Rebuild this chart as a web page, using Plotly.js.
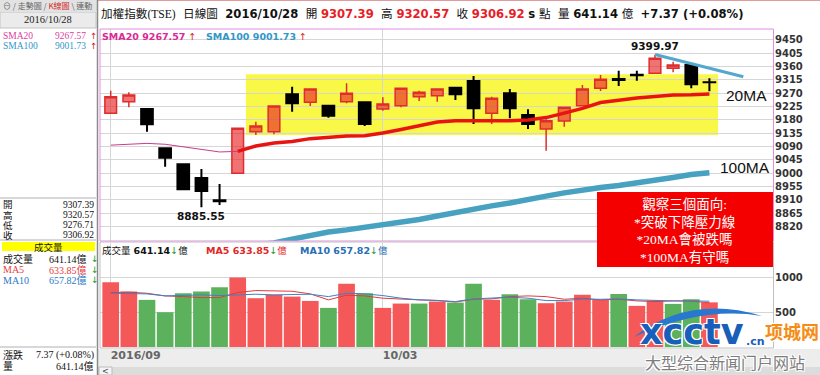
<!DOCTYPE html>
<html><head><meta charset="utf-8">
<script src="https://cdn.plot.ly/plotly-3.0.1.min.js"></script>
<style>html,body{margin:0;padding:0;background:#fff;} #chart{width:820px;height:375px;}</style>
</head><body><div id="chart"></div>
<script>
// ---------- data ----------
const dates = ['2016-09-07','2016-09-08','2016-09-09','2016-09-10','2016-09-12','2016-09-13','2016-09-14','2016-09-19','2016-09-20','2016-09-21','2016-09-22','2016-09-23','2016-09-26','2016-09-29','2016-09-30','2016-10-03','2016-10-04','2016-10-05','2016-10-06','2016-10-07','2016-10-11','2016-10-12','2016-10-13','2016-10-14','2016-10-17','2016-10-18','2016-10-19','2016-10-20','2016-10-21','2016-10-24','2016-10-25','2016-10-26','2016-10-27','2016-10-28'];
const openP  = [9202.5,9241.7,9217.0,9084.4,9030.4,8984.1,8909.0,9000.0,9140.4,9140.4,9266.6,9239.6,9228.2,9241.7,9239.6,9217.0,9228.2,9258.5,9261.9,9288.9,9311.5,9202.5,9270.0,9196.8,9149.5,9176.5,9228.2,9286.9,9318.0,9333.0,9337.5,9354.4,9365.5,9307.39];
const highP  = [9278.8,9273.4,9219.0,9086.0,9032.0,9014.5,8964.2,9152.0,9174.0,9228.0,9292.3,9285.0,9229.0,9303.8,9241.0,9256.5,9288.0,9278.8,9286.0,9292.0,9328.4,9258.5,9284.5,9216.0,9182.2,9224.0,9298.0,9331.8,9346.3,9346.0,9399.97,9376.6,9367.0,9320.57];
const lowP   = [9201.0,9222.8,9140.4,9022.3,8944.0,8885.55,8893.4,8999.0,9129.0,9131.6,9207.9,9227.0,9187.6,9236.0,9159.6,9211.3,9222.8,9244.0,9241.7,9247.4,9166.4,9166.4,9185.6,9149.5,9076.3,9157.3,9227.0,9277.8,9294.6,9312.0,9336.0,9340.9,9286.9,9276.71];
const closeP = [9258.5,9264.3,9165.4,9052.7,8946.0,8940.3,8906.0,9151.9,9159.6,9227.0,9236.2,9284.5,9194.4,9270.0,9166.4,9233.9,9286.9,9273.4,9284.5,9266.6,9219.4,9253.1,9219.4,9166.4,9177.5,9222.8,9284.5,9317.3,9315.0,9331.0,9388.0,9365.5,9300.4,9306.92];
const sma20  = [9095,9099,9101,9098,9090,9081,9072,9074,9092,9102,9107,9117,9122,9126,9127,9136,9148,9160,9173,9177,9177,9177,9177,9180,9188,9203,9219,9239,9247,9254,9259,9264,9265,9267.57];
const sma100 = [8700,8708,8715,8722,8728,8735,8741,8748,8756,8765,8778,8790,8802,8809,8817,8826,8837,8844,8856,8868,8881,8890,8900,8913,8923,8934,8944,8952,8959,8967,8977,8986,8996,9001.73];
const volume = [931,796,677,500,773,796,859,997,701,749,724,662,562,907,773,562,624,624,653,638,907,677,758,686,629,653,749,677,763,591,667,619,686,641.14];
const volMA5  = [782,787,772,734,724,710,710,782,811,811,801,763,677,744,734,701,686,677,670,645,686,691,724,734,724,686,701,677,686,662,653,662,660,633.85];
const volMA10 = [772,772,763,734,744,749,739,749,758,749,758,758,724,772,763,739,701,677,667,653,691,701,715,701,667,667,686,686,691,677,667,662,662,657.82];
const priceTicks = [8820,8865,8910,8955,9000,9045,9090,9135,9180,9225,9270,9315,9360,9405,9450];
const volTicks = [500,1000];
const xTickVals = ['2016-09-07','2016-10-03'];
const xTickText = ['2016/09','10/03'];

// ---------- geometry helpers (pixel -> paper) ----------
const L=100, R=774, T=29, B=347;
const px = x => (x-L)/(R-L);
const py = y => (B-y)/(B-T);

const RED='rgb(230,30,40)', CJK='Noto Sans CJK TC', SERIF='Liberation Serif, Noto Sans CJK TC';
const UP='rgb(244,88,88)', DN='rgb(92,178,92)';

const volColors = closeP.map((c,i)=> (i===0 || c>=closeP[i-1]) ? UP : DN);
const thickStart = 7;

const traces = [
  {type:'bar', x:dates, y:volume, yaxis:'y2', marker:{color:volColors, line:{width:0}}, hoverinfo:'skip'},
  {type:'scatter', mode:'lines', x:dates, y:volMA5, yaxis:'y2', line:{color:'rgb(225,60,60)', width:1}, hoverinfo:'skip'},
  {type:'scatter', mode:'lines', x:dates, y:volMA10, yaxis:'y2', line:{color:'rgb(60,130,200)', width:1}, hoverinfo:'skip'},
  {type:'scatter', mode:'lines', x:dates.slice(0,thickStart+1), y:sma20.slice(0,thickStart+1), line:{color:'rgb(200,60,140)', width:1}, hoverinfo:'skip'},
  {type:'scatter', mode:'lines', x:dates, y:sma100, line:{color:'rgb(70,162,192)', width:5.5}, hoverinfo:'skip'},
  {type:'candlestick', x:dates, open:openP, high:highP, low:lowP, close:closeP,
   increasing:{line:{color:'rgb(222,45,45)', width:1.5}, fillcolor:'rgba(232,40,40,0.65)'},
   decreasing:{line:{color:'#000', width:2}, fillcolor:'#000'},
   whiskerwidth:0, hoverinfo:'skip'},
  {type:'scatter', mode:'lines', x:dates.slice(thickStart), y:sma20.slice(thickStart), line:{color:'rgb(232,20,20)', width:3.5}, hoverinfo:'skip'}
];

function rectP(x0,y0,x1,y1,fill,line,lw,layer){
  return {type:'rect', xref:'paper', yref:'paper', x0:px(x0), x1:px(x1), y0:py(y1), y1:py(y0),
    fillcolor:fill||'rgba(0,0,0,0)', line:{color:line||'rgba(0,0,0,0)', width:lw||0}, layer:layer||'above'};
}
function lineP(x0,y0,x1,y1,color,w){
  return {type:'line', xref:'paper', yref:'paper', x0:px(x0), x1:px(x1), y0:py(y0), y1:py(y1), line:{color:color, width:w||1}, layer:'above'};
}
const P = (x,y)=> px(x)+','+py(y);

const shapes = [
  rectP(0,0,97,11,'#e2e2e2',null,0,'below'),
  rectP(0,12,96,28,'#ebebeb','#c4c4c4',1,'below'),
  rectP(97,349,820,375,'#ededed',null,0,'below'),
  rectP(97,367,820,375,'#dcdcdc',null,0,'below'),
  rectP(99,367,112,375,'#f4f4f4','#bbb',1,'below'),
  lineP(97,0.5,820,0.5,'#e29a9a',1),
  lineP(97.5,0,97.5,375,'#8a8a8a',1.5),
  lineP(0,198,96,198,'#b0b0b0',1),
  lineP(0,240,96,240,'#b0b0b0',1),
  rectP(2,242,95,251,'#ffff00',null,0,'above'),
  lineP(0,347,96,347,'#b0b0b0',1),
  // yellow zone
  {type:'rect', xref:'x', yref:'y', x0:7.45, x1:33.48, y0:9129, y1:9334, fillcolor:'rgb(250,248,70)', line:{width:0}, layer:'below'},
  // descending pressure line
  {type:'line', xref:'x', yref:'y', x0:30, y0:9401, x1:34.87, y1:9326, line:{color:'rgb(85,168,205)', width:3}, layer:'above'},
  // panel borders
  rectP(100,29,773.5,241,null,'rgb(226,140,226)',1,'above'),
  rectP(100,242,773.5,348,null,'#c0c0c0',1,'above'),
  // red note box
  rectP(597,192,773,267,'rgb(245,0,0)',null,0,'above'),
  // watermark swoosh
  {type:'path', xref:'paper', yref:'paper', path:'M'+P(634,337)+' Q'+P(690,294)+' '+P(762,316)+' Q'+P(702,306)+' '+P(634,337)+' Z',
   fillcolor:'rgb(40,120,210)', line:{width:0}, layer:'above'}
];

const anns = [];
function A(text,x,y,font,o){
  anns.push(Object.assign({text:text, x:px(x), y:py(y), xref:'paper', yref:'paper', showarrow:false,
    xanchor:'left', yanchor:'middle', borderpad:0, font:Object.assign({family:'DejaVu Sans, '+CJK, size:11, color:'#111'}, font)}, o||{}));
}
const upA = '<span style="color:rgb(225,20,20)">↑</span>';
const dnA = '<span style="color:rgb(30,150,30)">↓</span>';
const sp = '&nbsp;&nbsp;';

// header
A('<span style="font-family:Liberation Serif,'+CJK+'">加權指數(TSE)</span>'+sp+'日線圖'+sp+'<b>2016/10/28</b>'+sp+'開 <b><span style="color:'+RED+'">9307.39</span></b>'+sp+'高 <b><span style="color:'+RED+'">9320.57</span></b>'+sp+'收 <b><span style="color:'+RED+'">9306.92</span></b> <b>s</b> 點'+sp+'量 <b>641.14</b> 億'+sp+'<b>+7.37 (+0.08%)</b>',
  100,14,{size:11.6});

// price panel legend
A('<b>SMA20 9267.57</b> '+upA, 101,36,{size:9.5,color:'rgb(220,40,150)'});
A('<b>SMA100 9001.73</b> '+upA, 205,36,{size:9.5,color:'rgb(50,150,200)'});
// volume panel legend
A('成交量 <b>641.14</b>'+dnA+'億', 101,250,{size:9.5,color:'#111'});
A('<b>MA5 633.85</b>'+dnA+'億', 205,250,{size:9.5,color:'rgb(225,40,40)'});
A('<b>MA10 657.82</b>'+dnA+'億', 299,250,{size:9.5,color:'rgb(40,110,180)'});

// sidebar
A('⊖ / 走勢圖 / <span style="color:rgb(210,40,40)">K線圖</span> \\ 連動', 2,6,{size:8,color:'#666',family:CJK});
A('2016/10/28', 48,20,{size:10.5,color:'#222',family:SERIF},{xanchor:'center'});
A('SMA20', 2,35.5,{size:9.5,color:'rgb(220,60,160)',family:SERIF});
A('9267.57', 87,35.5,{size:9.5,color:'rgb(220,60,160)',family:SERIF},{xanchor:'right'});
A('↑', 89,35.5,{size:8.5,color:'rgb(220,20,20)'});
A('SMA100', 2,46,{size:9.5,color:'rgb(50,150,200)',family:SERIF});
A('9001.73', 87,46,{size:9.5,color:'rgb(50,150,200)',family:SERIF},{xanchor:'right'});
A('↑', 89,46,{size:8.5,color:'rgb(220,20,20)'});
const ohlcLab = ['開','高','低','收'];
const ohlcVal = ['9307.39','9320.57','9276.71','9306.92'];
ohlcLab.forEach((l,i)=>{
  A(l, 2,205+i*10,{size:9.5,family:SERIF});
  A(ohlcVal[i], 95,205+i*10,{size:9.5,family:SERIF},{xanchor:'right'});
});
A('成交量', 48,246.5,{size:9.5,family:CJK},{xanchor:'center'});
A('成交量', 2,259,{size:10,family:SERIF});
A('641.14億', 88,259,{size:10,family:SERIF},{xanchor:'right'});
A('↓', 90,259,{size:9,color:'rgb(30,150,30)'});
A('MA5', 2,269.5,{size:10,color:'rgb(230,60,60)',family:SERIF});
A('633.85億', 88,269.5,{size:10,color:'rgb(230,60,60)',family:SERIF},{xanchor:'right'});
A('↓', 90,269.5,{size:9,color:'rgb(30,150,30)'});
A('MA10', 2,280,{size:10,color:'rgb(40,120,200)',family:SERIF});
A('657.82億', 88,280,{size:10,color:'rgb(40,120,200)',family:SERIF},{xanchor:'right'});
A('↓', 90,280,{size:9,color:'rgb(30,150,30)'});
A('漲跌', 2,355,{size:10,family:SERIF});
A('7.37 (+0.08%)', 95,355,{size:10,family:SERIF},{xanchor:'right'});
A('量', 2,366,{size:10,family:SERIF});
A('641.14億', 95,366,{size:10,family:SERIF},{xanchor:'right'});
A('&lt;', 105.5,371,{size:8,color:'#444'},{xanchor:'center'});

// chart annotations
anns.push({x:dates[30], y:highP[30], xref:'x', yref:'y', text:'<b>9399.97</b>', showarrow:false, yanchor:'bottom', yshift:1,
  font:{family:'DejaVu Sans', size:10.5, color:'#111'}});
anns.push({x:dates[5], y:lowP[5], xref:'x', yref:'y', text:'<b>8885.55</b>', showarrow:false, yanchor:'top', yshift:-1,
  font:{family:'DejaVu Sans', size:10.5, color:'#111'}});
A('20MA', 746,96,{size:15.5,family:'Liberation Sans',color:'#111'},{xanchor:'center'});
A('100MA', 745,167,{size:15.5,family:'Liberation Sans',color:'#111'},{xanchor:'center'});
A('觀察三個面向:<br>*突破下降壓力線<br>*20MA會被跌嗎<br>*100MA有守嗎', 685,230,{size:13.5,family:SERIF,color:'#fff'},{xanchor:'center'});

// watermark
const halo = '1px 1px 0 #fff, -1px -1px 0 #fff, 1px -1px 0 #fff, -1px 1px 0 #fff';
A('<b>xcctv</b>', 692,332,{size:35,family:'DejaVu Sans',color:'rgb(25,95,185)',shadow:halo},{xanchor:'center'});
A('<b>.cn</b>', 745,341,{size:11,family:'DejaVu Sans',color:'rgb(25,95,185)',shadow:halo});
A('<b>项城网</b>', 792,331,{size:18,family:'Noto Sans CJK SC',color:'rgb(245,140,20)',shadow:halo},{xanchor:'center'});
A('大型综合新闻门户网站', 725,362,{size:16,family:'Noto Sans CJK SC',color:'rgb(125,125,125)',shadow:halo},{xanchor:'center'});

const axFont = {family:'DejaVu Sans', size:10, color:'#333', weight:'bold'};
const layout = {
  width:820, height:375,
  margin:{l:L, r:820-R, t:T, b:375-B, pad:0},
  paper_bgcolor:'#fff', plot_bgcolor:'#fff',
  showlegend:false, bargap:0.08, boxgap:0.08,
  xaxis:{type:'category', anchor:'y2', range:[-0.59,36.56], tickmode:'array', tickvals:xTickVals, ticktext:xTickText,
    showgrid:true, gridcolor:'#d6d6d6', zeroline:false, showline:false, ticks:'',
    ticklabelposition:'outside right', rangeslider:{visible:false},
    tickfont:{family:'DejaVu Sans', size:11, color:'#666', weight:'bold'}, fixedrange:true},
  yaxis:{domain:[py(241),1], range:[8771.5,9487], side:'right', anchor:'x', tickmode:'array', tickvals:priceTicks,
    showgrid:true, gridcolor:'#d6d6d6', zeroline:false, showline:false, ticks:'', tickfont:axFont},
  yaxis2:{domain:[0,py(243)], range:[0,1494], side:'right', anchor:'x', tickmode:'array', tickvals:volTicks,
    showgrid:true, gridcolor:'#d6d6d6', zeroline:false, showline:false, ticks:'', tickfont:axFont},
  shapes:shapes, annotations:anns
};
Plotly.newPlot('chart', traces, layout, {staticPlot:true, displayModeBar:false});
</script></body></html>
